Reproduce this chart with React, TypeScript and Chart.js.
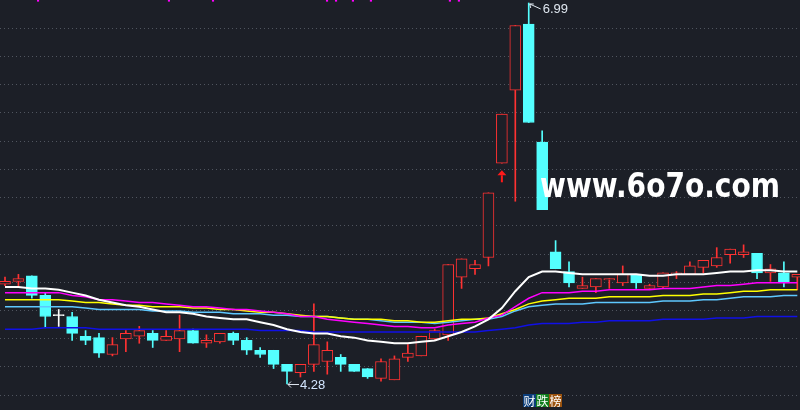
import React, { useEffect, useRef } from "react";
import { Chart, registerables } from "chart.js";

Chart.register(...registerables);

// ---------- data (daily candles) ----------
const opens = [
  4.99, 5.01, 5.05, 4.91, 4.77, 4.76, 4.62, 4.61, 4.49, 4.6,
  4.62, 4.64, 4.59, 4.6, 4.66, 4.57, 4.58, 4.64, 4.59, 4.52,
  4.52, 4.42, 4.36, 4.42, 4.44, 4.47, 4.42, 4.39, 4.32, 4.31,
  4.47, 4.48, 4.6, 4.63, 5.04, 5.1, 5.18, 5.85, 6.37, 6.84,
  6.0, 5.22, 5.08, 4.96, 4.97, 5.02, 5.0, 5.06, 4.96, 4.97,
  5.06, 5.06, 5.11, 5.12, 5.2, 5.2, 5.21, 5.07, 5.07, 5.04,
];
const highs = [
  5.04, 5.06, 5.05, 4.93, 4.81, 4.79, 4.66, 4.64, 4.61, 4.66,
  4.69, 4.66, 4.66, 4.77, 4.67, 4.63, 4.64, 4.65, 4.61, 4.54,
  4.52, 4.42, 4.42, 4.85, 4.58, 4.49, 4.42, 4.39, 4.46, 4.48,
  4.56, 4.62, 4.67, 5.13, 5.17, 5.16, 5.64, 6.2, 6.83, 6.99,
  6.08, 5.3, 5.15, 5.04, 5.03, 5.03, 5.12, 5.06, 4.99, 5.07,
  5.08, 5.15, 5.16, 5.25, 5.24, 5.27, 5.21, 5.13, 5.15, 5.06,
];
const lows = [
  4.98, 4.98, 4.89, 4.68, 4.69, 4.59, 4.56, 4.47, 4.48, 4.51,
  4.57, 4.54, 4.59, 4.51, 4.57, 4.54, 4.57, 4.56, 4.49, 4.47,
  4.39, 4.28, 4.33, 4.37, 4.35, 4.37, 4.37, 4.32, 4.3, 4.31,
  4.44, 4.48, 4.59, 4.59, 4.96, 5.06, 5.12, 5.85, 5.58, 6.14,
  5.52, 5.1, 4.97, 4.96, 4.93, 4.96, 4.98, 4.96, 4.96, 4.96,
  5.03, 5.06, 5.07, 5.11, 5.14, 5.18, 5.03, 5.01, 4.97, 4.95,
];
const closes = [
  5.01, 5.03, 4.91, 4.76, 4.77, 4.64, 4.59, 4.5, 4.56, 4.64,
  4.66, 4.59, 4.62, 4.66, 4.57, 4.59, 4.64, 4.59, 4.52, 4.49,
  4.42, 4.37, 4.42, 4.56, 4.52, 4.42, 4.37, 4.33, 4.44, 4.46,
  4.5, 4.62, 4.66, 5.13, 5.17, 5.13, 5.64, 6.2, 6.83, 6.14,
  5.52, 5.1, 5.0, 4.98, 5.03, 5.03, 5.06, 5.0, 4.98, 5.07,
  5.07, 5.12, 5.16, 5.18, 5.24, 5.22, 5.07, 5.1, 5.0, 5.06,
];

// moving averages
const maWhite = [
  4.97, 4.97, 4.96, 4.96, 4.95, 4.93, 4.91, 4.88, 4.86, 4.84,
  4.83, 4.81, 4.79, 4.79, 4.78, 4.76, 4.75, 4.74, 4.74, 4.72,
  4.7, 4.67, 4.65, 4.64, 4.64, 4.62, 4.61, 4.59, 4.58, 4.57,
  4.57, 4.58, 4.59, 4.62, 4.65, 4.69, 4.74, 4.82, 4.94, 5.04,
  5.08, 5.08, 5.07, 5.06, 5.06, 5.06, 5.06, 5.06, 5.05, 5.05,
  5.06, 5.06, 5.06, 5.07, 5.08, 5.08, 5.09, 5.09, 5.08, 5.08,
];
const maMagenta = [
  4.93, 4.93, 4.93, 4.93, 4.93, 4.91, 4.9, 4.88, 4.88, 4.87,
  4.86, 4.86, 4.85, 4.84, 4.83, 4.83, 4.82, 4.81, 4.81, 4.8,
  4.79, 4.78, 4.76, 4.76, 4.74, 4.73, 4.72, 4.71, 4.7, 4.69,
  4.69, 4.68, 4.68, 4.7, 4.71, 4.72, 4.75, 4.77, 4.83, 4.89,
  4.93, 4.93, 4.93, 4.94, 4.94, 4.95, 4.95, 4.95, 4.95, 4.96,
  4.96, 4.96, 4.97, 4.98, 4.98, 4.99, 5.0, 5.0, 5.0, 5.0,
];
const maYellow = [
  4.88, 4.88, 4.88, 4.88, 4.88, 4.87, 4.86, 4.86, 4.85, 4.84,
  4.84, 4.83, 4.83, 4.83, 4.82, 4.82, 4.81, 4.81, 4.8, 4.79,
  4.79, 4.78, 4.77, 4.76, 4.76, 4.75, 4.74, 4.74, 4.74, 4.73,
  4.73, 4.72, 4.72, 4.73, 4.74, 4.74, 4.75, 4.78, 4.81, 4.85,
  4.87, 4.88, 4.89, 4.89, 4.89, 4.9, 4.9, 4.9, 4.9, 4.91,
  4.91, 4.91, 4.92, 4.92, 4.93, 4.94, 4.94, 4.95, 4.95, 4.95,
];
const maLightBlue = [
  4.83, 4.83, 4.83, 4.83, 4.83, 4.83, 4.82, 4.81, 4.81, 4.81,
  4.81, 4.8, 4.8, 4.8, 4.79, 4.79, 4.79, 4.78, 4.78, 4.78,
  4.77, 4.77, 4.76, 4.76, 4.76, 4.75, 4.74, 4.74, 4.73, 4.72,
  4.72, 4.72, 4.71, 4.72, 4.73, 4.74, 4.74, 4.76, 4.8, 4.83,
  4.84, 4.85, 4.85, 4.85, 4.86, 4.86, 4.86, 4.86, 4.86, 4.87,
  4.87, 4.87, 4.88, 4.88, 4.89, 4.9, 4.9, 4.9, 4.91, 4.91,
];
const maBlue = [
  4.67, 4.67, 4.67, 4.68, 4.68, 4.68, 4.68, 4.67, 4.67, 4.67,
  4.67, 4.67, 4.67, 4.67, 4.67, 4.67, 4.67, 4.67, 4.67, 4.66,
  4.66, 4.66, 4.66, 4.65, 4.65, 4.65, 4.65, 4.65, 4.65, 4.65,
  4.65, 4.65, 4.65, 4.65, 4.65, 4.65, 4.66, 4.67, 4.68, 4.7,
  4.71, 4.71, 4.71, 4.72, 4.72, 4.73, 4.73, 4.73, 4.73, 4.74,
  4.74, 4.74, 4.74, 4.75, 4.75, 4.75, 4.76, 4.76, 4.76, 4.76,
];

// small magenta marks at the top edge (positions in candle units)
const topMarks = [2.46, 12.21, 15.49, 23.98, 24.65, 25.91, 27.25, 33.13, 33.8];
// buy-signal arrow under these candles
const signalDays = [37];

const watermark = "www.6o7o.com";
const tagTexts = ["财", "跌", "榜"];
const tagColors = ["#0b3d7a", "#0f7d1c", "#9a520e"];

// view ranges
const X_MIN = -0.372;
const X_MAX = 59.2;
const PRICE_MIN = 4.0953;
const PRICE_MAX = 7.0113;
const GRID_MAX = 14.524;

const BG = "#1c1f27";
const UP = "#ff3232";
const DOWN = "#54ffff";
const FLAT = "#ffffff";
const GRID = "#50555f";
const LABEL = "#dfe7f0";

const days = opens.map((_, i) => i);

export default function App() {
  const ref = useRef<HTMLCanvasElement>(null);

  useEffect(() => {
    document.body.style.margin = "0";
    document.body.style.background = BG;
    const canvas = ref.current;
    if (!canvas) return;

    const colors = days.map((i) =>
      closes[i] > opens[i] ? UP : closes[i] < opens[i] ? DOWN : FLAT
    );
    const wickData = days.map((i) => ({ x: i, y: [lows[i], highs[i]] }));
    const bodyData = days.map((i) => {
      const o = opens[i];
      const c = closes[i];
      return { x: i, y: o === c ? [o - 0.0035, o + 0.0035] : [o, c] };
    });
    const line = (vals: number[], color: string, width: number) => ({
      type: "line" as const,
      data: days.map((i) => ({ x: i, y: vals[i] })),
      borderColor: color,
      borderWidth: width,
      pointRadius: 0,
      fill: false,
      tension: 0,
      order: -1,
      xAxisID: "x",
      yAxisID: "y",
    });

    const annot = {
      id: "annot",
      beforeDraw(chart: any) {
        const c = chart.ctx;
        c.save();
        c.fillStyle = BG;
        c.fillRect(0, 0, chart.width, chart.height);
        c.restore();
      },
      afterDraw(chart: any) {
        const c = chart.ctx as CanvasRenderingContext2D;
        const xs = chart.scales.x;
        const ys = chart.scales.y;
        c.save();

        // highest high label
        const hiVal = Math.max(...highs);
        const hi = highs.indexOf(hiVal);
        const hx = xs.getPixelForValue(hi);
        const hy = ys.getPixelForValue(hiVal);
        c.strokeStyle = LABEL;
        c.lineWidth = 1;
        c.beginPath();
        c.moveTo(hx + 12, hy + 6);
        c.lineTo(hx + 1, hy + 1);
        c.moveTo(hx + 1, hy + 1);
        c.lineTo(hx + 5, hy + 1);
        c.moveTo(hx + 1, hy + 1);
        c.lineTo(hx + 2, hy + 5);
        c.stroke();
        c.fillStyle = LABEL;
        c.font = "13px 'Liberation Sans', Arial, sans-serif";
        c.textBaseline = "middle";
        c.textAlign = "left";
        c.fillText(hiVal.toFixed(2), hx + 14, hy + 6);

        // lowest low label
        const loVal = Math.min(...lows);
        const lo = lows.indexOf(loVal);
        const lx = xs.getPixelForValue(lo);
        const ly = ys.getPixelForValue(loVal);
        c.beginPath();
        c.moveTo(lx + 12, ly + 0.5);
        c.lineTo(lx + 1, ly + 0.5);
        c.moveTo(lx + 1, ly + 0.5);
        c.lineTo(lx + 4, ly - 2.5);
        c.moveTo(lx + 1, ly + 0.5);
        c.lineTo(lx + 4, ly + 3.5);
        c.stroke();
        c.fillStyle = "#d3e6ff";
        c.fillText(loVal.toFixed(2), lx + 13, ly + 1);

        // buy signal arrows
        c.fillStyle = "#ff1a1a";
        signalDays.forEach((d) => {
          const sx = xs.getPixelForValue(d);
          const sy = ys.getPixelForValue(lows[d]) + 7;
          c.beginPath();
          c.moveTo(sx, sy);
          c.lineTo(sx - 4.5, sy + 5);
          c.lineTo(sx + 4.5, sy + 5);
          c.closePath();
          c.fill();
          c.fillRect(sx - 1, sy + 5, 2, 7);
        });

        // watermark
        c.fillStyle = "#ffffff";
        c.font = "bold 33px 'DejaVu Sans', sans-serif";
        c.textBaseline = "alphabetic";
        const w = c.measureText(watermark).width;
        c.translate(540, 197);
        c.scale(240 / w, 1);
        c.fillText(watermark, 0, 0);
        c.setTransform(1, 0, 0, 1, 0, 0);

        // bottom tags
        c.font = "12px 'Noto Sans CJK SC', sans-serif";
        c.textBaseline = "middle";
        c.textAlign = "center";
        tagTexts.forEach((t, k) => {
          const bx = 523 + k * 13;
          c.fillStyle = tagColors[k];
          c.fillRect(bx, 394, 13, 13);
          c.fillStyle = "#ffffff";
          c.fillText(t, bx + 6.5, 401);
        });
        c.restore();
      },
    };

    const chart = new Chart(canvas, {
      type: "bar",
      data: {
        datasets: [
          {
            type: "bar",
            data: wickData as any,
            backgroundColor: colors,
            borderWidth: 0,
            barThickness: 1,
            grouped: false,
            order: 2,
          },
          {
            type: "bar",
            data: bodyData as any,
            backgroundColor: colors.map((col) => (col === UP ? BG : col)),
            borderColor: colors,
            borderWidth: 1,
            borderSkipped: false,
            barThickness: 11,
            grouped: false,
            order: 1,
          },
          line(maWhite, "#ffffff", 2),
          line(maMagenta, "#ff00ff", 1.5),
          line(maYellow, "#ffff00", 1.5),
          line(maLightBlue, "#5ec8ff", 1.5),
          line(maBlue, "#1010e6", 1.5),
          {
            type: "scatter",
            data: topMarks.map((x) => ({ x, y: PRICE_MAX - 0.004 })),
            pointStyle: "rect",
            pointRadius: 1.5,
            backgroundColor: "#ff00ff",
            borderWidth: 0,
            order: -2,
          } as any,
        ] as any,
      },
      options: {
        animation: false,
        responsive: false,
        devicePixelRatio: 1,
        events: [],
        layout: { padding: 0, autoPadding: false },
        plugins: { legend: { display: false }, tooltip: { enabled: false } },
        scales: {
          x: { type: "linear", min: X_MIN, max: X_MAX, display: false, offset: false },
          y: { type: "linear", min: PRICE_MIN, max: PRICE_MAX, display: false },
          g: {
            type: "linear",
            axis: "y",
            position: "right",
            min: 0,
            max: GRID_MAX,
            reverse: true,
            display: true,
            ticks: { display: false, stepSize: 1 },
            grid: {
              drawTicks: false,
              lineWidth: 1,
              color: (ctx: any) =>
                Number.isInteger(ctx.tick?.value) && ctx.tick.value > 0 ? GRID : "rgba(0,0,0,0)",
            },
            border: { display: false, dash: [1, 3] },
          } as any,
        },
      } as any,
      plugins: [annot],
    });
    return () => chart.destroy();
  }, []);

  return (
    <div style={{ width: 800, height: 410, background: BG }}>
      <canvas ref={ref} width={800} height={410} style={{ display: "block" }} />
    </div>
  );
}
